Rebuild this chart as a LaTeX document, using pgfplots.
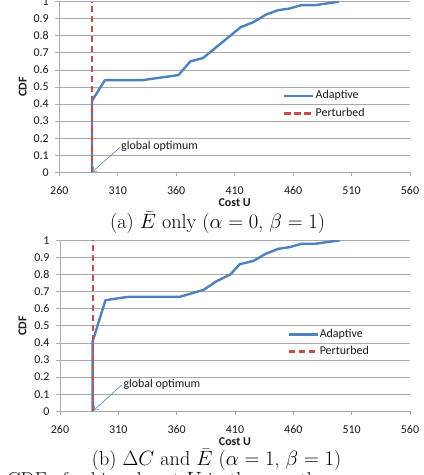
\documentclass[border=0pt]{standalone}
\usepackage{fontspec}
\usepackage{pgfplots}
\pgfplotsset{compat=1.18}
\usetikzlibrary{arrows.meta}
\newfontfamily\carlito{Carlito}
\definecolor{xlblue}{HTML}{4F81BD}
\definecolor{xlred}{HTML}{C0504D}
\definecolor{gridgray}{RGB}{170,170,170}
\pgfplotsset{
  excel/.style={
    scale only axis,
    xmin=260, xmax=560, ymin=0, ymax=1,
    xtick={260,310,...,560},
    ytick={0,0.1,...,1.0},
    axis x line*=bottom, axis y line*=left,
    axis line style={-, draw=gridgray, line width=0.8bp},
    ymajorgrids, major grid style={draw=gridgray, line width=0.8bp},
    tick style={draw=gridgray, line width=0.8bp},
    tick align=outside, major tick length=4bp,
    /pgf/number format/assume math mode=true,
    ticklabel style={font=\carlito\fontsize{12}{14}\selectfont, text=black!90},
    yticklabel style={xshift=-3bp},
    xticklabel style={yshift=-7bp},
    label style={font=\carlito\bfseries\fontsize{12}{14}\selectfont, text=black!90},
    xlabel={Cost U},
    ylabel={CDF},
    legend style={draw=none, fill=none, inner sep=0pt, row sep=5.6bp, column sep=1bp,
      font=\carlito\fontsize{12}{14}\selectfont, text=black!90,
      nodes={inner sep=0pt, text height=9bp, text depth=3bp}},
    legend cell align=left,
    legend image code/.code={\draw[#1] (0bp,0bp) -- (29bp,0bp);},
  }
}
\begin{document}
\begin{tikzpicture}
\path[use as bounding box] (0,0) rectangle (424bp,-475bp);
% ---------- (a) ----------
\begin{axis}[excel,
  at={(59.3bp,-172.3bp)}, anchor=south west,
  width=350.7bp, height=170.6bp,
  xlabel style={at={(axis description cs:0.5,-0.18)}, anchor=center},
  ylabel style={at={(axis description cs:-0.104,0.5)}, anchor=center},
  legend style={at={(0.638,0.397)}, anchor=west},
]
\addplot[xlblue, line width=2.4bp, line join=round] coordinates {
(288,0) (288,0.42) (299,0.54) (331,0.54) (362,0.57) (372,0.65) (383,0.67)
(415,0.85) (426,0.88) (437,0.925) (447,0.95) (457,0.96) (467,0.98) (479,0.98) (499,1.0)};
\addlegendentry{Adaptive}
\addplot[xlred, line width=2.4bp, dash pattern=on 6.5bp off 3.5bp] coordinates {(288,0) (288,1)};
\addlegendentry{Perturbed}
\draw[xlblue, line width=0.6bp, -{Straight Barb[length=4bp,width=6bp]}] (axis cs:312,0.146) -- (axis cs:288.3,0.003);
\node[anchor=west, inner sep=0pt, font=\carlito\fontsize{12}{14}\selectfont, text=black!90] at (axis cs:312.8,0.15) {global optimum};
\end{axis}
% ---------- (b) ----------
\begin{axis}[excel,
  at={(60bp,-411.3bp)}, anchor=south west,
  width=350bp, height=171bp,
  xlabel style={at={(axis description cs:0.5,-0.18)}, anchor=center},
  ylabel style={at={(axis description cs:-0.107,0.5)}, anchor=center},
  legend style={at={(0.649,0.40)}, anchor=west, row sep=5bp},
]
\addplot[xlblue, line width=2.4bp, line join=round] coordinates {
(288,0) (288,0.41) (299,0.65) (319,0.67) (363,0.67) (383,0.71) (394,0.76) (406,0.80)
(414,0.86) (426,0.88) (436,0.92) (447,0.95) (457,0.96) (467,0.98) (479,0.98) (500,1.0)};
\addlegendentry{Adaptive}
\addplot[xlred, line width=2.4bp, dash pattern=on 6.5bp off 3.5bp] coordinates {(288.5,0) (288.5,1)};
\addlegendentry{Perturbed}
\draw[xlblue, line width=0.6bp, -{Straight Barb[length=4bp,width=6bp]}] (axis cs:312.9,0.154) -- (axis cs:288.8,0.005);
\node[anchor=west, inner sep=0pt, font=\carlito\fontsize{12}{14}\selectfont, text=black!90] at (axis cs:314.3,0.16) {global optimum};
\end{axis}
% ---------- captions ----------
\node[anchor=base west, inner sep=0pt, font=\fontsize{20.2}{24}\selectfont] at (110bp,-228.3bp) {(a) $\bar{E}$ only ($\alpha=0$, $\beta=1$)};
\node[anchor=base west, inner sep=0pt, font=\fontsize{20.2}{24}\selectfont] at (91.7bp,-465.5bp) {(b) $\Delta C$ and $\bar{E}$ ($\alpha=1$, $\beta=1$)};
\node[anchor=base west, inner sep=0pt, font=\fontsize{20.2}{24}\selectfont] at (7bp,-486bp) {CDF of achieved cost $U$ in the case the};
\end{tikzpicture}
\end{document}
